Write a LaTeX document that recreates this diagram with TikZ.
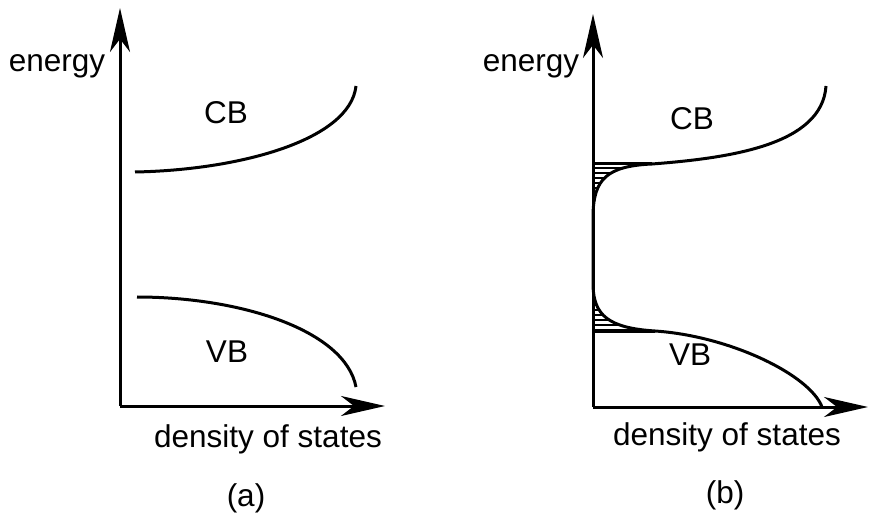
\documentclass[tikz,border=0pt]{standalone}
\usepackage{fontspec}
\setmainfont{Liberation Sans}
\usepackage{tikz}
\usetikzlibrary{arrows.meta,positioning}

\tikzset{
  axis/.style={line width=3pt, -{Stealth[length=44pt, width=20pt, inset=13pt]}},
  band/.style={line width=3pt},
  hatch/.style={line width=1.3pt},
  lbl/.style={font=\fontsize{31.5}{36}\selectfont, inner sep=0pt}
}

\begin{document}
\begin{tikzpicture}[x=1pt, y=-1pt]
  \useasboundingbox (0,0) rectangle (869,518);

  %% ===== PANEL (a) =====
  \coordinate (oA) at (120,406);
  \coordinate (eA) at (120,8);
  \coordinate (dA) at (385,406);
  \draw[axis] (oA) -- (eA);
  \draw[axis] (oA) -- (dA);

  % Band edges
  \draw[band] (135,172) .. controls (240,170) and (350,140) .. (356,86);
  \draw[band] (137,297) .. controls (240,297) and (345,330) .. (356,387);

  % Labels
  \node[lbl, anchor=base] (enA) at (57,72) {energy};
  \node[lbl] (cbA) at (226,113) {CB};
  \node[lbl] (vbA) at (227,352) {VB};
  \node[lbl, anchor=base] (dosA) at (268,447) {density of states};
  \node[lbl, anchor=base] (capA) at (246,506) {(a)};

  %% ===== PANEL (b) =====
  \coordinate (oB) at (593,407);
  \coordinate (eB) at (593,14);
  \coordinate (dB) at (868,407);

  % Band tails (hatched)
  \begin{scope}
    \clip (593,164) -- (652,164) .. controls (606,166) and (594,180) .. (593,214) -- cycle;
    \foreach \y in {168,173,...,213}
      \draw[hatch] (590,\y) -- (660,\y);
  \end{scope}
  \begin{scope}
    \clip (593,331) -- (655,331) .. controls (608,328) and (594,315) .. (593,286) -- cycle;
    \foreach \y in {290,295,...,330}
      \draw[hatch] (590,\y) -- (660,\y);
  \end{scope}
  \draw[band] (593,164) -- (652,164);
  \draw[band] (593,331) -- (655,331);

  % Band edges with tails into the gap
  \draw[band] (826,86) .. controls (822,145) and (730,158) .. (652,164)
    .. controls (606,166) and (594,180) .. (593,214) -- (593,286)
    .. controls (594,315) and (608,328) .. (655,331)
    .. controls (730,336) and (810,375) .. (822,407);

  \draw[axis] (oB) -- (eB);
  \draw[axis] (oB) -- (dB);

  % Labels
  \node[lbl, anchor=base] (enB) at (531,72) {energy};
  \node[lbl] (cbB) at (692,119) {CB};
  \node[lbl] (vbB) at (690,355) {VB};
  \node[lbl, anchor=base] (dosB) at (727,445) {density of states};
  \node[lbl, anchor=base] (capB) at (725,503) {(b)};

\end{tikzpicture}
\end{document}
